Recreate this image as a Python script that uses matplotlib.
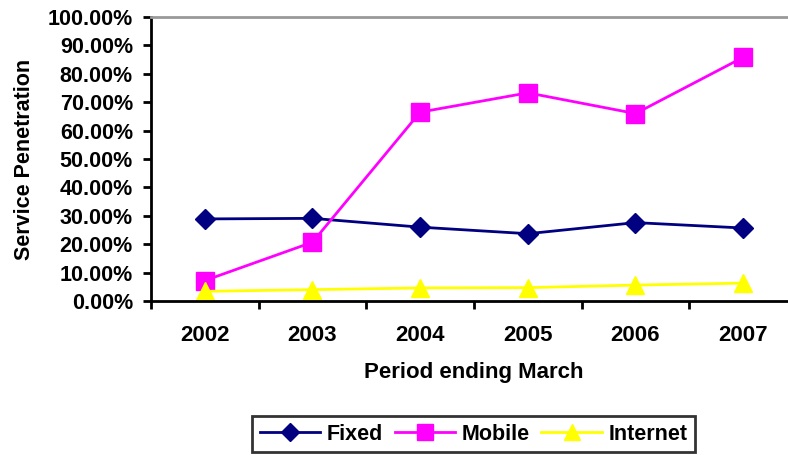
import matplotlib.pyplot as plt
import numpy as np
from matplotlib.ticker import FuncFormatter

plt.rcParams['font.family'] = ['Liberation Sans', 'DejaVu Sans']
plt.rcParams['font.weight'] = 'bold'

years = ['2002', '2003', '2004', '2005', '2006', '2007']
fixed = [28.9, 29.1, 26.0, 23.7, 27.6, 25.7]
mobile = [7.2, 20.7, 66.5, 73.3, 66.0, 85.8]
internet = [3.4, 4.0, 4.6, 4.7, 5.6, 6.3]

fig = plt.figure(figsize=(7.88, 4.55), dpi=100)
# plot area runs past the right edge, as in the original
ax = fig.add_axes([151 / 788, 1 - 301 / 455, (797 - 151) / 788, (301 - 17) / 455])

x = np.arange(len(years))
ax.plot(x, fixed, color='#000080', lw=2, marker='D', ms=10, label='Fixed')
ax.plot(x, mobile, color='#FF00FF', lw=2, marker='s', ms=12.5, label='Mobile')
ax.plot(x, internet, color='#FFFF00', lw=2, marker='^', ms=13, label='Internet')

ax.set_xlim(-0.5, len(years) - 0.5)
ax.set_ylim(0, 100)
ax.set_yticks(np.arange(0, 101, 10))
ax.yaxis.set_major_formatter(FuncFormatter(lambda v, p: '%.2f%%' % v))
ax.tick_params(axis='y', direction='out', length=6, width=2, labelsize=15.5, pad=7)

ax.set_xticks(np.arange(-0.5, len(years), 1))
ax.set_xticklabels([])
ax.tick_params(axis='x', which='major', direction='out', length=6, width=2)
ax.set_xticks(x, minor=True)
ax.set_xticklabels(years, minor=True)
ax.tick_params(axis='x', which='minor', length=0, labelsize=16, pad=17)

for s in ['left', 'bottom']:
    ax.spines[s].set_linewidth(2)
ax.spines['top'].set_color('#999999')
ax.spines['top'].set_linewidth(2)
ax.spines['right'].set_visible(False)

ax.set_xlabel('Period ending March', fontsize=16, fontweight='bold', labelpad=12)
ax.set_ylabel('Service Penetration', fontsize=15.5, fontweight='bold', labelpad=9)

leg = fig.legend(loc='center', bbox_to_anchor=(473.5 / 788, 1 - 434 / 455), ncol=3,
                 fontsize=15.5, frameon=True, fancybox=False, edgecolor='black',
                 handlelength=2.8, columnspacing=0.55, handletextpad=0.3,
                 borderpad=0.35, markerscale=0.9)
leg.get_frame().set_linewidth(2)

plt.savefig('out.png', dpi=100)
